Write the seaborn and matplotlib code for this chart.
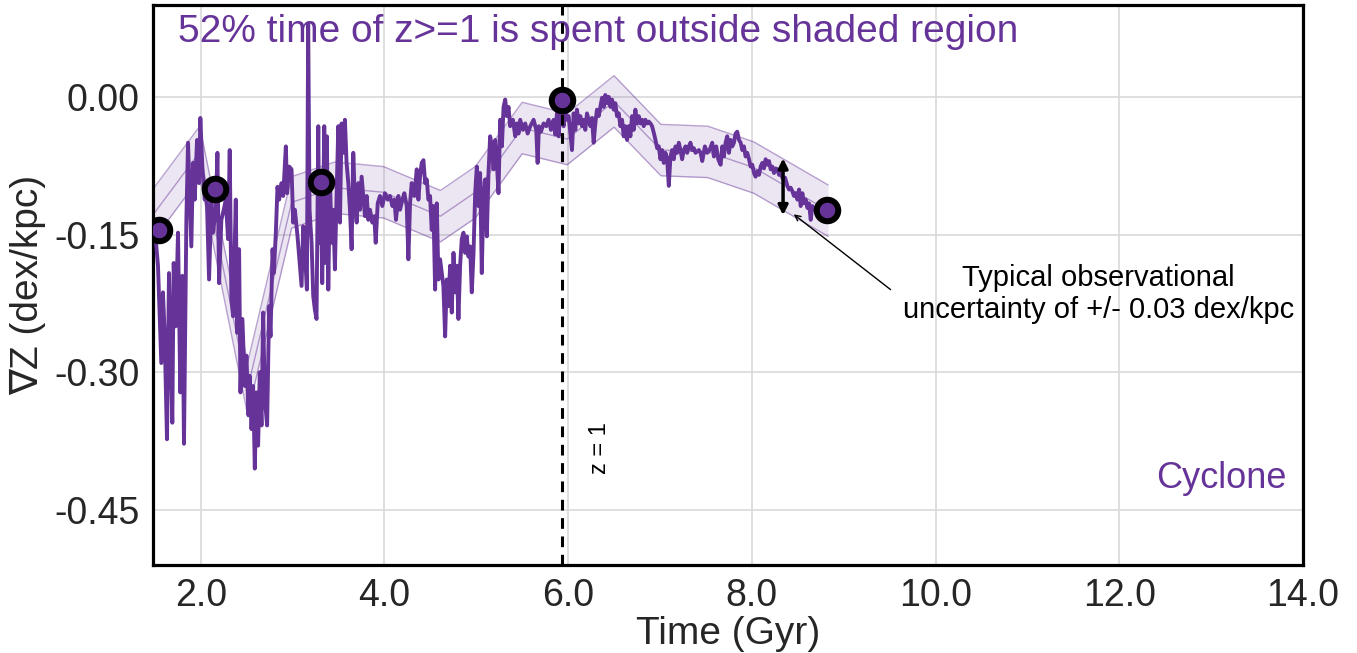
import matplotlib
matplotlib.use("Agg")
import matplotlib.pyplot as plt
import seaborn as sns

# simulated gradient history (Gyr, dex/kpc)
line_time = [
    1.498, 1.535, 1.571, 1.589, 1.607, 1.633, 1.655, 1.673, 1.691, 1.706, 1.727, 1.753, 1.778, 1.800,
    1.818, 1.844, 1.862, 1.880, 1.898, 1.916, 1.935, 1.960, 1.982, 1.996, 2.018, 2.044, 2.062, 2.091,
    2.116, 2.134, 2.164, 2.182, 2.200, 2.225, 2.251, 2.273, 2.298, 2.316, 2.334, 2.353, 2.382, 2.396,
    2.418, 2.433, 2.454, 2.480, 2.498, 2.520, 2.534, 2.553, 2.571, 2.589, 2.607, 2.625, 2.643, 2.662,
    2.680, 2.698, 2.723, 2.745, 2.760, 2.782, 2.796, 2.818, 2.836, 2.854, 2.880, 2.898, 2.927, 2.941,
    2.963,
    2.989, 3.007, 3.025, 3.054, 3.080, 3.098, 3.116, 3.141, 3.156, 3.170, 3.185, 3.207, 3.225, 3.243,
    3.261, 3.280, 3.290, 3.309, 3.323, 3.345, 3.359, 3.374, 3.389, 3.407, 3.425, 3.443, 3.461, 3.479,
    3.498, 3.516, 3.534, 3.552, 3.570, 3.588, 3.607, 3.625, 3.643, 3.661, 3.679, 3.698, 3.716, 3.734,
    3.752, 3.770, 3.788, 3.807, 3.825, 3.843, 3.868, 3.890, 3.905, 3.927, 3.952, 3.977, 4.006, 4.036,
    4.061, 4.087, 4.108, 4.126, 4.152, 4.170, 4.196, 4.217, 4.243, 4.261, 4.279, 4.297, 4.326, 4.352,
    4.370, 4.388, 4.406, 4.425, 4.443,
    4.461, 4.479, 4.497, 4.515, 4.533, 4.552, 4.570, 4.588, 4.606, 4.624, 4.642, 4.661, 4.679, 4.697,
    4.715, 4.733, 4.752, 4.770, 4.788, 4.806, 4.824, 4.842, 4.861, 4.879, 4.897, 4.915, 4.933, 4.951,
    4.970, 4.988, 5.006, 5.024, 5.042, 5.060, 5.079, 5.097, 5.115, 5.133, 5.151, 5.170, 5.188, 5.206,
    5.224, 5.242, 5.260, 5.279, 5.297, 5.315, 5.333, 5.351, 5.369, 5.399, 5.424, 5.442, 5.460, 5.478,
    5.508, 5.533, 5.559, 5.588, 5.624, 5.653, 5.668, 5.682, 5.704, 5.733, 5.762, 5.788, 5.813, 5.842,
    5.860, 5.878,
    5.896, 5.915, 5.933, 5.951, 5.969, 5.987, 6.005, 6.024, 6.042, 6.060, 6.078, 6.096, 6.114, 6.133,
    6.151, 6.169, 6.187, 6.205, 6.224, 6.242, 6.260, 6.278, 6.296, 6.314, 6.333, 6.351, 6.369, 6.387,
    6.405, 6.423, 6.442, 6.460, 6.478, 6.496, 6.514, 6.532, 6.551, 6.569, 6.587, 6.605, 6.623, 6.642,
    6.660, 6.678, 6.696, 6.714, 6.732, 6.751, 6.769, 6.787, 6.805, 6.823, 6.841, 6.860, 6.878, 6.896,
    6.914, 6.932, 6.951, 6.969, 6.987, 7.005, 7.023, 7.041, 7.060, 7.078, 7.096, 7.114, 7.132, 7.150,
    7.169, 7.187, 7.205, 7.223, 7.241, 7.259, 7.278, 7.296, 7.314, 7.332, 7.350, 7.369, 7.387, 7.423,
    7.442, 7.460, 7.489, 7.514, 7.540, 7.569, 7.587, 7.612, 7.634, 7.660, 7.678, 7.696, 7.714, 7.732,
    7.751, 7.769, 7.787, 7.805, 7.823, 7.841, 7.860, 7.878, 7.896, 7.914, 7.932, 7.950, 7.969, 7.987,
    8.005, 8.023, 8.041, 8.060, 8.078, 8.096, 8.114, 8.132, 8.150, 8.169, 8.187, 8.205, 8.223, 8.241,
    8.259, 8.278, 8.296, 8.314, 8.339, 8.361, 8.387, 8.405, 8.423, 8.441, 8.459, 8.478, 8.496, 8.514,
    8.532, 8.550, 8.568, 8.587, 8.605, 8.623, 8.641, 8.659, 8.700,
]
line_grad = [
    -0.141, -0.184, -0.290, -0.213, -0.257, -0.373, -0.192, -0.279, -0.355, -0.181, -0.250, -0.148, -0.322, -0.195,
    -0.378, -0.134, -0.050, -0.105, -0.163, -0.072, -0.112, -0.047, -0.094, -0.023, -0.076, -0.112, -0.094, -0.199,
    -0.112, -0.148, -0.123, -0.061, -0.203, -0.134, -0.123, -0.112, -0.155, -0.058, -0.221, -0.239, -0.112, -0.257,
    -0.166, -0.322, -0.242, -0.315, -0.282, -0.347, -0.304, -0.362, -0.315, -0.405, -0.322, -0.380, -0.300, -0.358,
    -0.235, -0.329, -0.358, -0.228, -0.261, -0.166, -0.192, -0.148, -0.098, -0.112, -0.094, -0.108, -0.054, -0.105,
    -0.076,
    -0.079, -0.137, -0.123, -0.152, -0.184, -0.206, -0.141, -0.181, -0.210, 0.080, -0.123, -0.159, -0.217, -0.232,
    -0.242, -0.032, -0.159, -0.108, -0.203, -0.032, -0.181, -0.043, -0.210, -0.087, -0.159, -0.123, -0.188, -0.108,
    -0.032, -0.137, -0.029, -0.061, -0.025, -0.072, -0.094, -0.123, -0.166, -0.061, -0.116, -0.137, -0.094, -0.123,
    -0.087, -0.108, -0.130, -0.108, -0.134, -0.123, -0.137, -0.130, -0.159, -0.116, -0.108, -0.119, -0.105, -0.112,
    -0.108, -0.119, -0.112, -0.134, -0.108, -0.123, -0.112, -0.105, -0.119, -0.177, -0.116, -0.094, -0.108, -0.079,
    -0.112, -0.087, -0.072, -0.069, -0.094,
    -0.090, -0.112, -0.108, -0.145, -0.119, -0.210, -0.116, -0.199, -0.177, -0.192, -0.206, -0.261, -0.199, -0.228,
    -0.184, -0.235, -0.170, -0.213, -0.184, -0.242, -0.184, -0.155, -0.148, -0.170, -0.152, -0.174, -0.163, -0.213,
    -0.170, -0.105, -0.076, -0.119, -0.083, -0.192, -0.105, -0.090, -0.152, -0.083, -0.043, -0.054, -0.079, -0.047,
    -0.072, -0.105, -0.025, -0.054, -0.011, -0.003, -0.021, -0.011, -0.032, -0.025, -0.043, -0.029, -0.040, -0.025,
    -0.036, -0.029, -0.040, -0.032, -0.025, -0.036, -0.072, -0.032, -0.038, -0.029, -0.032, -0.025, -0.036, -0.025,
    -0.041, -0.018,
    -0.043, -0.018, -0.003, -0.032, -0.014, -0.025, -0.021, -0.039, -0.058, -0.018, -0.036, -0.014, -0.029, -0.021,
    -0.032, -0.025, -0.036, -0.018, -0.025, -0.032, -0.023, -0.050, -0.029, -0.014, -0.021, -0.011, -0.001, -0.011,
    0.002, -0.007, 0.000, -0.011, -0.003, -0.014, -0.007, -0.021, -0.018, -0.032, -0.025, -0.043, -0.032, -0.047,
    -0.032, -0.043, -0.021, -0.036, -0.014, -0.029, -0.021, -0.029, -0.025, -0.032, -0.025, -0.029, -0.027, -0.029,
    -0.032, -0.039, -0.047, -0.056, -0.054, -0.068, -0.058, -0.072, -0.061, -0.068, -0.097, -0.065, -0.058, -0.068,
    -0.054, -0.061, -0.050, -0.058, -0.068, -0.058, -0.054, -0.061, -0.054, -0.050, -0.058, -0.056, -0.061, -0.058,
    -0.061, -0.070, -0.054, -0.061, -0.058, -0.050, -0.065, -0.054, -0.068, -0.074, -0.054, -0.065, -0.050, -0.043,
    -0.061, -0.047, -0.054, -0.050, -0.040, -0.038, -0.047, -0.050, -0.058, -0.054, -0.065, -0.061, -0.068, -0.076,
    -0.074, -0.083, -0.087, -0.081, -0.085, -0.076, -0.072, -0.078, -0.068, -0.074, -0.070, -0.079, -0.076, -0.083,
    -0.078, -0.079, -0.085, -0.083, -0.090, -0.088, -0.097, -0.101, -0.099, -0.103, -0.108, -0.105, -0.112, -0.101,
    -0.119, -0.105, -0.116, -0.112, -0.121, -0.116, -0.134, -0.119, -0.125,
]

# smoothed trend and its band
band_time = [1.50, 1.99, 2.51, 2.99, 3.46, 3.99, 4.61, 4.99, 5.50, 5.99, 6.50, 7.01, 7.52, 8.02, 8.83]
band_mid = [-0.126, -0.060, -0.318, -0.115, -0.099, -0.104, -0.130, -0.104, -0.034, -0.046, -0.005, -0.058,
            -0.060, -0.077, -0.124]
band_half = 0.028

# snapshot markers
obs_time = [1.55, 2.16, 3.31, 5.93, 8.82]
obs_grad = [-0.145, -0.100, -0.093, -0.003, -0.123]

z1_time = 5.93
xticks = [2.0, 4.0, 6.0, 8.0, 10.0, 12.0, 14.0]
yticks = [0.00, -0.15, -0.30, -0.45]

purple = '#663399'

sns.set_style('whitegrid')
plt.rcParams['font.family'] = ['Liberation Sans', 'DejaVu Sans']

fig = plt.figure(figsize=(13.57, 6.53), dpi=100)
ax = fig.add_axes([0.1127, 0.1348, 0.8475, 0.8575])

lo = [m - band_half for m in band_mid]
hi = [m + band_half for m in band_mid]
ax.fill_between(band_time, lo, hi, color=purple, alpha=0.12, lw=0)
for edge in (lo, band_mid, hi):
    ax.plot(band_time, edge, color=purple, alpha=0.45, lw=1)

sns.lineplot(x=line_time, y=line_grad, sort=False, estimator=None, color=purple, lw=2.8, ax=ax, zorder=3)

ax.axvline(z1_time, color='black', ls=(0, (3.5, 2.5)), lw=2.2, zorder=4)

sns.scatterplot(x=obs_time, y=obs_grad, s=240, color=purple, edgecolor='black', linewidth=4.3, ax=ax, zorder=6)

# observational uncertainty marker
ax.annotate('', xy=(8.34, -0.067), xytext=(8.34, -0.129),
            arrowprops=dict(arrowstyle='<|-|>', color='black', lw=2.5, mutation_scale=14, shrinkA=0, shrinkB=0),
            zorder=7)
ax.annotate('', xy=(8.456, -0.128), xytext=(9.51, -0.21),
            arrowprops=dict(arrowstyle='->', color='black', lw=1, shrinkA=0, shrinkB=0))
ax.text(11.77, -0.215, 'Typical observational\nuncertainty of +/- 0.03 dex/kpc',
        ha='center', va='center', fontsize=21, color='black')

ax.text(1.75, 0.071, '52% time of z>=1 is spent outside shaded region', color=purple, fontsize=28, va='center')
ax.text(13.82, -0.416, 'Cyclone', color=purple, fontsize=26, ha='right', va='center')
ax.text(6.35, -0.383, 'z = 1', rotation=90, ha='center', va='center', fontsize=17, color='black')

ax.set_xlim(1.48, 14.0)
ax.set_ylim(-0.51, 0.10)
ax.set_xticks(xticks)
ax.set_xticklabels(['%.1f' % t for t in xticks])
ax.set_yticks(yticks)
ax.set_yticklabels(['%.2f' % abs(t) if t == 0 else '%.2f' % t for t in yticks])
ax.tick_params(labelsize=27, pad=6, colors='#262626')
ax.grid(color='#d9d9d9', lw=1.2)

ax.set_xlabel('Time (Gyr)', fontsize=28, labelpad=1, color='#262626')
ax.set_ylabel('∇Z (dex/kpc)', fontsize=28, labelpad=6, color='#262626')

for sp in ax.spines.values():
    sp.set_color('black')
    sp.set_linewidth(2.3)

fig.savefig('out.png', dpi=100)
